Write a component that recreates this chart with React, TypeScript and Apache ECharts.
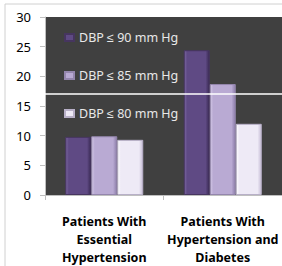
import React, { useEffect, useRef } from "react";
import * as echarts from "echarts";

const categories = ["Patients With\nEssential\nHypertension", "Patients With\nHypertension and\nDiabetes"];
const seriesNames = ["DBP ≤ 90 mm Hg", "DBP ≤ 85 mm Hg", "DBP ≤ 80 mm Hg"];
const dbp90 = [9.8, 24.4];
const dbp85 = [9.9, 18.7];
const dbp80 = [9.3, 12.0];
const referenceValue = [17];
const yTicks = { min: 0, max: 30, interval: 5 };

function grad(left: string, mid: string, right: string) {
  return new echarts.graphic.LinearGradient(0, 0, 1, 0, [
    { offset: 0, color: left },
    { offset: 0.12, color: mid },
    { offset: 0.85, color: mid },
    { offset: 1, color: right },
  ]);
}

export default function App() {
  const ref = useRef<HTMLDivElement>(null);
  useEffect(() => {
    if (!ref.current) return;
    const chart = echarts.init(ref.current, null, { renderer: "svg" });
    const font = "'Noto Sans', sans-serif";
    const barStyles = [
      { color: grad("#7a66a0", "#5f4a84", "#3a2a55"), borderColor: "#46355f" },
      { color: grad("#d3c8e6", "#b9aad3", "#8d7eaa"), borderColor: "#9486ad" },
      { color: grad("#ffffff", "#eeeaf6", "#c6bdd6"), borderColor: "#b8b0c8" },
    ];
    const data = [dbp90, dbp85, dbp80];
    chart.setOption({
      animation: false,
      backgroundColor: "#ffffff",
      graphic: [
        {
          type: "rect",
          shape: { x: 5, y: 4, width: 300, height: 300 },
          style: { fill: "none", stroke: "#d0d0d0", lineWidth: 1 },
          silent: true,
        },
      ],
      grid: {
        left: 45,
        right: -1,
        top: 17,
        height: 178,
        show: true,
        backgroundColor: "#404040",
        borderWidth: 0,
      },
      legend: {
        orient: "vertical",
        left: 59,
        top: 26,
        itemWidth: 9,
        itemHeight: 7,
        itemGap: 25,
        icon: "rect",
        data: seriesNames,
        textStyle: { color: "#e8e8e8", fontSize: 12.5, fontFamily: font },
      },
      xAxis: {
        type: "category",
        data: categories,
        axisLine: { show: true, lineStyle: { color: "#bfbfbf" } },
        axisTick: { show: true, length: 5, lineStyle: { color: "#bfbfbf" } },
        axisLabel: {
          color: "#000",
          fontWeight: "bold",
          fontSize: 12.5,
          fontFamily: font,
          lineHeight: 18,
          margin: 17,
          interval: 0,
        },
      },
      yAxis: {
        type: "value",
        min: yTicks.min,
        max: yTicks.max,
        interval: yTicks.interval,
        splitLine: { show: false },
        axisLine: { show: true, lineStyle: { color: "#bfbfbf" } },
        axisTick: { show: true, length: 5, lineStyle: { color: "#bfbfbf" } },
        axisLabel: { color: "#000", fontSize: 13, fontFamily: font, margin: 14 },
      },
      series: [
        {
          type: "line",
          data: [],
          z: 1,
          silent: true,
          markLine: {
            silent: true,
            symbol: ["none", "none"],
            label: { show: false },
            lineStyle: { color: "#ffffff", width: 1.5, type: "solid" },
            data: referenceValue.map((v) => ({ yAxis: v })),
          },
        },
        ...seriesNames.map((name, i) => ({
          name,
          type: "bar",
          data: data[i],
          z: 3,
          barWidth: 26,
          barGap: "0%",
          itemStyle: { color: barStyles[i].color, borderColor: barStyles[i].borderColor, borderWidth: 1 },
        })),
      ],
    });
    return () => chart.dispose();
  }, []);
  return (
    <div
      ref={ref}
      style={{ position: "fixed", left: 0, top: 0, width: 282, height: 266 }}
    />
  );
}
